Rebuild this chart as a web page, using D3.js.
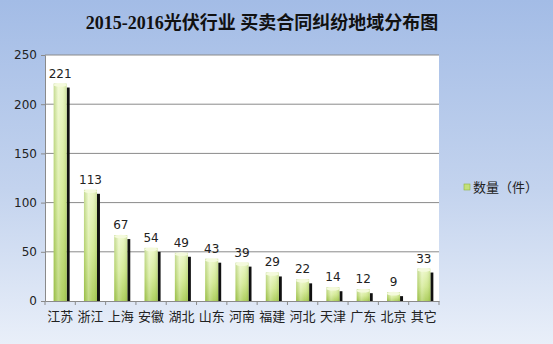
<!DOCTYPE html>
<html><head><meta charset="utf-8">
<script src="https://cdn.jsdelivr.net/npm/d3@7"></script>
<style>body{margin:0;}svg{display:block;}</style>
</head><body>
<script>
const categories = ["江苏","浙江","上海","安徽","湖北","山东","河南","福建","河北","天津","广东","北京","其它"];
const values = [221,113,67,54,49,43,39,29,22,14,12,9,33];
const yTicks = [0,50,100,150,200,250];
const title = "2015-2016光伏行业 买卖合同纠纷地域分布图";
const legendLabel = "数量（件）";

const W=553,H=344;
const svg=d3.select("body").append("svg").attr("width",W).attr("height",H);
const defs=svg.append("defs");
const bg=defs.append("linearGradient").attr("id","bg").attr("x1",0).attr("y1",0).attr("x2",0).attr("y2",1);
bg.append("stop").attr("offset","0%").attr("stop-color","#a3bce6");
bg.append("stop").attr("offset","55%").attr("stop-color","#c3d3ee");
bg.append("stop").attr("offset","100%").attr("stop-color","#e9eff9");
const bv=defs.append("linearGradient").attr("id","barV").attr("x1",0).attr("y1",0).attr("x2",0).attr("y2",1);
bv.append("stop").attr("offset","0%").attr("stop-color","#ebf7c4");
bv.append("stop").attr("offset","55%").attr("stop-color","#d0e88c");
bv.append("stop").attr("offset","100%").attr("stop-color","#a8cb52");
const bh=defs.append("linearGradient").attr("id","barH").attr("x1",0).attr("y1",0).attr("x2",1).attr("y2",0);
bh.append("stop").attr("offset","0%").attr("stop-color","#6f9a22").attr("stop-opacity",0.3);
bh.append("stop").attr("offset","35%").attr("stop-color","#ffffff").attr("stop-opacity",0.3);
bh.append("stop").attr("offset","65%").attr("stop-color","#ffffff").attr("stop-opacity",0.1);
bh.append("stop").attr("offset","100%").attr("stop-color","#6f9a22").attr("stop-opacity",0.25);

svg.append("rect").attr("width",W).attr("height",H).attr("fill","url(#bg)");

const x0=45,x1=439,yTop=55,yBot=301;
const x=d3.scaleBand().domain(categories).range([x0,x1]);
const y=d3.scaleLinear().domain([0,250]).range([yBot,yTop]);

svg.append("rect").attr("x",x0).attr("y",yTop).attr("width",x1-x0).attr("height",yBot-yTop).attr("fill","#fff");

svg.append("g").selectAll("line").data(yTicks.filter(d=>d>0)).join("line")
 .attr("x1",x0).attr("x2",x1).attr("y1",d=>y(d)).attr("y2",d=>y(d))
 .attr("stroke","#8a8a8a").attr("stroke-width",1);

const ya=svg.append("g").attr("transform",`translate(${x0},0)`).call(d3.axisLeft(y).tickValues(yTicks).tickSize(4).tickPadding(4));
ya.select(".domain").attr("stroke","#8a8a8a");
ya.selectAll(".tick line").attr("stroke","#8a8a8a");
ya.selectAll("text").attr("font-family","Tahoma, 'DejaVu Sans', sans-serif").attr("font-size",12).attr("fill","#222");

const xa=svg.append("g").attr("transform",`translate(0,${yBot})`).call(d3.axisBottom(x).tickSize(0).tickPadding(11));
xa.select(".domain").attr("stroke","#8a8a8a");
xa.selectAll("text").attr("font-family","'Noto Sans CJK SC', sans-serif").attr("font-size",13).attr("fill","#222");
svg.append("g").selectAll("line").data(d3.range(categories.length+1)).join("line")
 .attr("x1",i=>x0+i*x.step()).attr("x2",i=>x0+i*x.step()).attr("y1",yBot).attr("y2",yBot+4).attr("stroke","#8a8a8a");

const bw=13;
const g=svg.append("g");
categories.forEach((c,i)=>{
  const cx=x(c)+x.bandwidth()/2;
  const v=values[i];
  const top=y(v);
  g.append("rect").attr("x",cx-bw/2+bw).attr("y",Math.min(top+4,yBot)).attr("width",3).attr("height",Math.max(0,yBot-top-4)).attr("fill","#111");
  g.append("rect").attr("x",cx-bw/2).attr("y",top).attr("width",bw).attr("height",yBot-top).attr("fill","url(#barV)");
  g.append("rect").attr("x",cx-bw/2).attr("y",top).attr("width",bw).attr("height",yBot-top).attr("fill","url(#barH)");
  g.append("ellipse").attr("cx",cx).attr("cy",top+1.5).attr("rx",bw/2).attr("ry",1.8).attr("fill","#f4fadc");
  g.append("text").attr("x",cx).attr("y",top-6).attr("text-anchor","middle")
   .attr("font-family","Tahoma, 'DejaVu Sans', sans-serif").attr("font-size",12).attr("fill","#222").text(v);
});

svg.append("text").attr("x",262).attr("y",29).attr("text-anchor","middle")
 .attr("font-family","'Liberation Serif', 'Noto Sans CJK SC', serif").attr("font-weight","bold").attr("font-size",18).attr("fill","#111").text(title);

svg.append("rect").attr("x",464).attr("y",184).attr("width",6).attr("height",6).attr("fill","#c4e07a").attr("stroke","#8fb43c").attr("stroke-width",0.6);
svg.append("text").attr("x",473).attr("y",192).attr("font-family","'Noto Sans CJK SC', sans-serif").attr("font-size",13).attr("fill","#222").text(legendLabel);
</script>
</body></html>
